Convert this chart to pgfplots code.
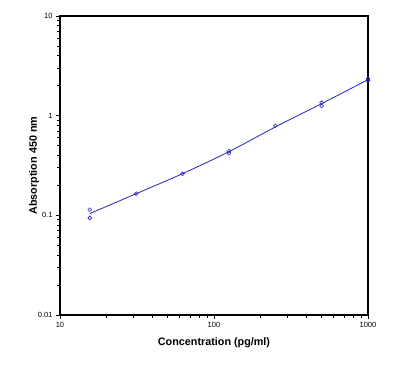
\documentclass[border=0pt]{standalone}
\usepackage{pgfplots}
\pgfplotsset{compat=1.18}
\usepackage{fontspec}
\setmainfont{Liberation Sans}
\definecolor{curveblue}{RGB}{35,35,190}
\begin{document}
\begin{tikzpicture}[x=1pt,y=1pt]
\path[use as bounding box] (-60,-63) rectangle (340,315);
\begin{axis}[
  at={(0,0)}, anchor=south west,
  scale only axis, width=308pt, height=299pt,
  xmode=log, ymode=log,
  xmin=10, xmax=1000, ymin=0.01, ymax=10,
  xtick={10,100,1000}, xticklabels={10,100,1000},
  ytick={0.01,0.1,1,10}, yticklabels={0.01,0.1,1,10},
  minor xtick={}, minor ytick={},
  tick align=outside, major tick length=4pt,
  xtick pos=bottom, ytick pos=left,
  axis line style={line width=1.2pt},
  every tick/.style={line width=0.8pt, black},
  tick label style={font=\fontsize{7.5}{8}\selectfont},
  xlabel={\bfseries Concentration (pg/ml)},
  ylabel={\bfseries Absorption 450 nm},
  label style={font=\fontsize{10.8}{12}\selectfont},
  xlabel style={yshift=-3pt},
  ylabel style={yshift=-8pt},
  clip=false,
]
\addplot[curveblue, line width=0.8pt, smooth, no marks] coordinates {
(15.6,0.104) (31.25,0.165) (62.5,0.262) (125,0.435) (250,0.77) (500,1.32) (1000,2.30)
};
\addplot[only marks, mark=o, mark size=1.9pt, curveblue, mark options={line width=0.6pt}] coordinates {
(15.6,0.114) (15.6,0.094)
(31.25,0.165) (62.5,0.261)
(125,0.44) (125,0.42)
(250,0.79)
(500,1.25) (500,1.35)
(1000,2.25) (1000,2.35)
};
\end{axis}
\end{tikzpicture}
\end{document}
